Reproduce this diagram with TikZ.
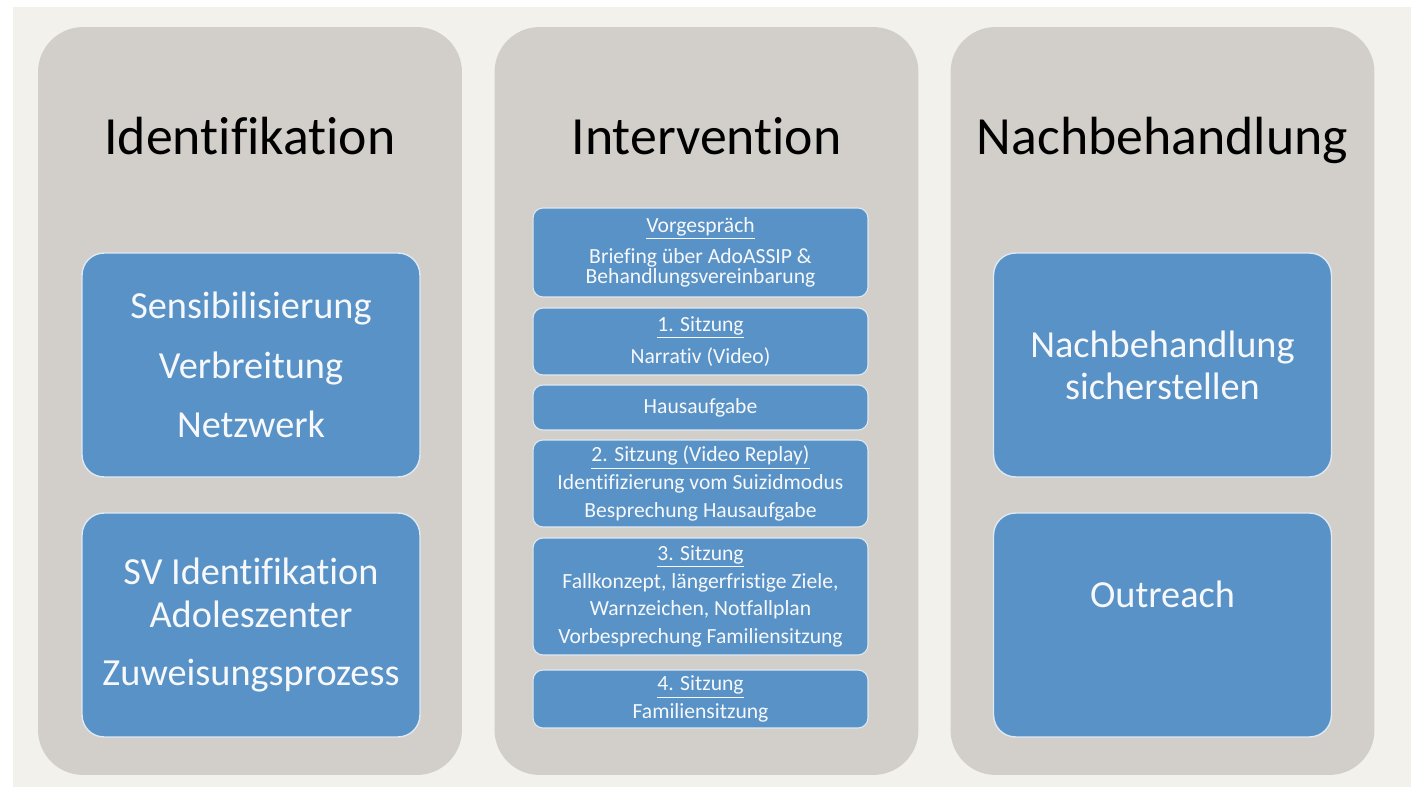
\documentclass[tikz,border=0pt]{standalone}
\usepackage{fontspec}
\setmainfont{Carlito}[Ligatures={NoCommon,NoRare}]
\usepackage{xcolor}
\usepackage{tikz}
\definecolor{paper}{RGB}{243, 241, 236}
\definecolor{panelgray}{RGB}{210, 207, 202}
\definecolor{boxblue}{RGB}{89, 146, 198}
\definecolor{boxedge}{RGB}{222, 233, 243}
\definecolor{boxtext}{RGB}{246, 248, 251}

\begin{document}
\begin{tikzpicture}[
    x=0.02cm, y=-0.02cm,
    phase/.style={fill=panelgray, rounded corners=0.9cm,
                  minimum width=8.48cm, minimum height=14.96cm},
    heading/.style={anchor=base, font=\fontsize{30.6}{36}\selectfont},
    block/.style={draw=boxedge, line width=0.8pt, fill=boxblue,
                  rounded corners=0.44cm, minimum width=6.76cm,
                  minimum height=4.48cm, text=boxtext, align=center,
                  font=\fontsize{21.8}{25}\selectfont},
    session/.style={draw=boxedge, line width=0.6pt, fill=boxblue,
                    rounded corners=0.2cm, minimum width=6.7cm, inner sep=0pt,
                    text=boxtext, align=center,
                    font=\fontsize{12.3}{15.8}\selectfont}]
    \useasboundingbox (0,0) rectangle (1414,787);
    \fill[white] (0,0) rectangle (1414,787);
    \fill[paper] (13,7) rectangle (1411,787);

    % three phases
    \node[phase] (ident) at (250,401) {};
    \node[phase] (interv) at (706.5,401) {};
    \node[phase] (nachb) at (1162.5,401) {};
    \node[heading] (identtitle) at (250,155) {Identifikation};
    \node[heading] (intervtitle) at (706.5,155) {Intervention};
    \node[heading] (nachbtitle) at (1162.5,155) {Nachbehandlung};

    % Identifikation
    \node[block] (sensib) at (251,365)
      {Sensibilisierung\\[9pt]Verbreitung\\[9pt]Netzwerk};
    \node[block] (svident) at (251,625)
      {SV Identifikation\\Adoleszenter\\[8pt]Zuweisungsprozess};

    % Intervention, one box per session
    \node[session, minimum height=1.78cm] (vorg) at (700.5,252.5)
      {\underline{Vorgespräch}\\[2pt]Briefing über AdoASSIP \&\\[-4.5pt]Behandlungsvereinbarung};
    \node[session, minimum height=1.34cm] (sitz1) at (700.5,341.5)
      {\underline{1. Sitzung}\\[2.4pt]Narrativ (Video)};
    \node[session, minimum height=0.9cm] (hausauf) at (700.5,407.5)
      {Hausaufgabe};
    \node[session, minimum height=1.74cm] (sitz2) at (700.5,483.5)
      {\underline{2. Sitzung (Video Replay)}\\Identifizierung vom Suizidmodus\\Besprechung Hausaufgabe};
    \node[session, minimum height=2.34cm] (sitz3) at (700.5,596.5)
      {\underline{3. Sitzung}\\Fallkonzept, längerfristige Ziele,\\Warnzeichen, Notfallplan\\Vorbesprechung Familiensitzung};
    \node[session, minimum height=1.16cm] (sitz4) at (700.5,699)
      {\underline{4. Sitzung}\\Familiensitzung};

    % Nachbehandlung
    \node[block, font=\fontsize{21.8}{23.8}\selectfont] (sicher) at (1162.5,365)
      {Nachbehandlung\\sicherstellen};
    \node[block, text depth=1.24cm] (outreach) at (1162.5,625) {Outreach};
\end{tikzpicture}
\end{document}
